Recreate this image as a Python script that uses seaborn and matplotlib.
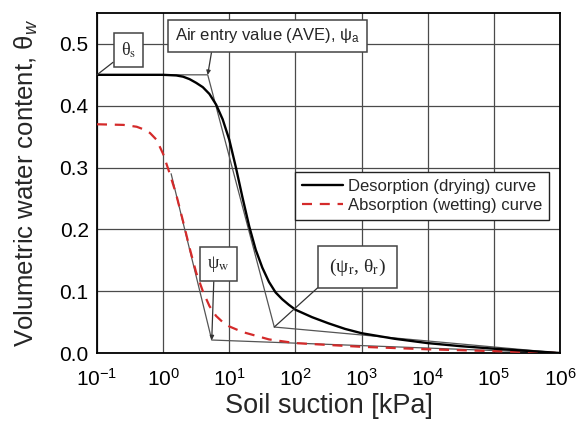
import numpy as np
import pandas as pd
import matplotlib
matplotlib.use("Agg")
import matplotlib.pyplot as plt
import seaborn as sns

# ---- data (suction in kPa, volumetric water content) ----
drying_suction = [0.1, 1.0, 1.58, 2.0, 2.51, 3.16, 3.98, 5.01, 6.31, 7.94, 10.0, 12.6,
                  15.8, 20.0, 25.1, 31.6, 39.8, 50.1, 63.1, 79.4, 100, 178, 316, 562,
                  1000, 3162, 1e4, 31623, 1e5, 316228, 1e6]
drying_theta = [0.450, 0.450, 0.449, 0.447, 0.443, 0.437, 0.430, 0.419, 0.402, 0.378, 0.345,
                0.300, 0.252, 0.205, 0.167, 0.138, 0.115, 0.098, 0.087, 0.078, 0.070, 0.058,
                0.048, 0.039, 0.032, 0.023, 0.016, 0.011, 0.007, 0.0035, 0.0]

wetting_suction = [0.1, 0.251, 0.398, 0.501, 0.631, 0.794, 1.0, 1.26, 1.58, 2.0, 2.51,
                   3.16, 3.98, 5.01, 6.31, 7.94, 10.0, 15.8, 25.1, 39.8, 63.1, 100, 316,
                   1000, 3162, 1e4, 31623, 1e5, 316228, 1e6]
wetting_theta = [0.370, 0.369, 0.366, 0.362, 0.356, 0.345, 0.322, 0.290, 0.256, 0.213, 0.170,
                 0.130, 0.100, 0.076, 0.060, 0.050, 0.043, 0.034, 0.028, 0.022, 0.019, 0.016,
                 0.013, 0.010, 0.008, 0.006, 0.0045, 0.003, 0.0015, 0.0]

# construction (tangent) lines
drying_tangent_x = [0.1, 4.72, 47.9, 1e6]
drying_tangent_y = [0.45, 0.45, 0.042, 0.0]
wetting_tangent_x = [1.32, 5.43, 1e6]
wetting_tangent_y = [0.29, 0.021, 0.0]

theta_s_point = (0.1, 0.45)
ave_point = (4.72, 0.45)
psi_w_point = (5.43, 0.021)
residual_point = (47.9, 0.042)

labels = ["Desorption (drying) curve", "Absorption (wetting) curve"]
x_ticks = [1e-1, 1e0, 1e1, 1e2, 1e3, 1e4, 1e5, 1e6]
y_ticks = [0.0, 0.1, 0.2, 0.3, 0.4, 0.5]

# ---- style ----
sns.set_theme(style="whitegrid")
plt.rcParams["font.family"] = ["Liberation Sans", "DejaVu Sans"]
plt.rcParams["mathtext.fontset"] = "custom"
plt.rcParams["mathtext.rm"] = "Liberation Sans"
plt.rcParams["mathtext.it"] = "Liberation Sans:italic"
plt.rcParams["mathtext.bf"] = "Liberation Sans:bold"

fig = plt.figure(figsize=(5.76, 4.23), dpi=100)
ax = fig.add_axes([97 / 576, 1 - 353 / 423, 463 / 576, 340 / 423])

dry = pd.DataFrame({"suction": drying_suction, "theta": drying_theta})
wet = pd.DataFrame({"suction": wetting_suction, "theta": wetting_theta})

ax.plot(drying_tangent_x, drying_tangent_y, color="#555555", lw=0.9, zorder=2)
ax.plot(wetting_tangent_x, wetting_tangent_y, color="#555555", lw=0.9, zorder=2)

sns.lineplot(data=dry, x="suction", y="theta", ax=ax, color="black", lw=1.7,
             label=labels[0], sort=False, zorder=4)
sns.lineplot(data=wet, x="suction", y="theta", ax=ax, color="#d42a2a", lw=1.6,
             label=labels[1], sort=False, zorder=3)
ax.lines[-1].set_linestyle((0, (4.5, 3.5)))

ax.set_xscale("log")
ax.set_xlim(0.1, 1e6)
ax.set_ylim(0, 0.55)
ax.set_xticks(x_ticks)
ax.set_yticks(y_ticks)
ax.yaxis.set_major_formatter(matplotlib.ticker.FormatStrFormatter("%.1f"))
ax.minorticks_off()

ax.grid(True, color="#4a4a4a", lw=0.9)
for s in ax.spines.values():
    s.set_color("black")
    s.set_linewidth(1.3)
ax.tick_params(direction="in", length=4, width=1, colors="black", labelsize=15)
ax.tick_params(axis="y", pad=6)
ax.tick_params(axis="x", pad=11)

ax.set_xlabel("Soil suction [kPa]", fontsize=19.5, labelpad=2)
ax.set_ylabel("Volumetric water content, θ$_w$", fontsize=18.5, labelpad=14)

leg = ax.legend(loc="upper left", bbox_to_anchor=(0.428, 0.532), borderaxespad=0,
                fontsize=12, frameon=True, fancybox=False, handlelength=2.5,
                borderpad=0.4, labelspacing=0.25, handletextpad=0.3)
leg.get_frame().set_edgecolor("#222222")
leg.get_frame().set_linewidth(1.0)
leg.get_frame().set_alpha(1)

box = dict(boxstyle="square,pad=0.4", fc="white", ec="#444444", lw=1.1)
serif = "Liberation Serif"

ax.annotate(r"θ$_\mathrm{s}$", xy=theta_s_point, xytext=(0.068, 0.89), textcoords="axes fraction",
            ha="center", va="center", fontsize=13, family=serif, math_fontfamily="stix", bbox=box,
            arrowprops=dict(arrowstyle="-", color="#333333", lw=0.9, relpos=(0, 0.2),
                            shrinkA=0, shrinkB=0), zorder=6)
ax.annotate(r"Air entry value (AVE), ψ$_\mathrm{a}$", xy=ave_point, xytext=(0.368, 0.9324),
            textcoords="axes fraction", ha="center", va="center", fontsize=12, bbox=box,
            arrowprops=dict(arrowstyle="-|>", color="#333333", lw=0.9, relpos=(0.204, 0),
                            shrinkA=0, shrinkB=0, mutation_scale=6), zorder=6)
ax.annotate(r"ψ$_\mathrm{w}$", xy=psi_w_point, xytext=(0.2624, 0.262), textcoords="axes fraction",
            ha="center", va="center", fontsize=13, family=serif, math_fontfamily="stix", bbox=box,
            arrowprops=dict(arrowstyle="-|>", color="#333333", lw=0.9, relpos=(0.3, 0),
                            shrinkA=0, shrinkB=0, mutation_scale=6), zorder=6)
ax.annotate(r"(ψ$_\mathrm{r}$, θ$_\mathrm{r}$)", xy=residual_point, xytext=(0.5626, 0.2529),
            textcoords="axes fraction", ha="center", va="center", fontsize=14, family=serif,
            math_fontfamily="stix", bbox=dict(boxstyle="square,pad=0.55", fc="white",
                                              ec="#444444", lw=1.1),
            arrowprops=dict(arrowstyle="-", color="#333333", lw=0.9, relpos=(0, 0),
                            shrinkA=0, shrinkB=0), zorder=6)

fig.savefig("out.png", dpi=100)
